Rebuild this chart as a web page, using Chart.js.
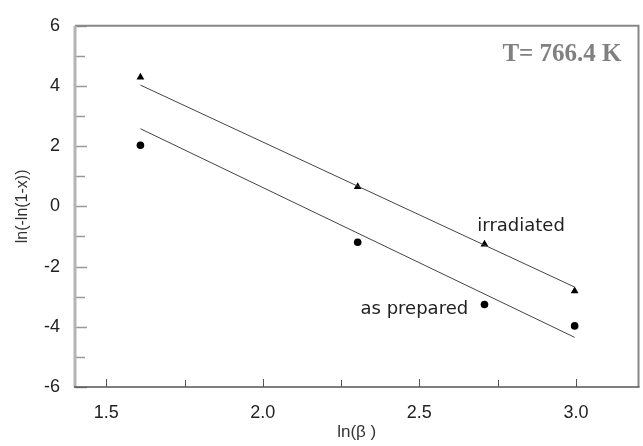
<!DOCTYPE html>
<html>
<head>
<meta charset="utf-8">
<script src="https://cdn.jsdelivr.net/npm/chart.js@4/dist/chart.umd.min.js"></script>
<style>
  html, body { margin: 0; padding: 0; background: #fff; }
</style>
</head>
<body>
<canvas id="chart" width="643" height="446"></canvas>
<script>
// ln(beta) values for the heating rates
const lnBeta = [1.609, 2.303, 2.708, 2.996];
const irradiated = [4.29, 0.65, -1.26, -2.81];
const asPrepared = [2.03, -1.19, -3.26, -3.97];

// fitted lines (end points)
const fitX = [1.609, 2.996];
const irradiatedFit = [4.03, -2.68];
const asPreparedFit = [2.58, -4.35];

const xMajor = [1.5, 2.0, 2.5, 3.0];
const xMinor = [1.75, 2.25, 2.75];
const yMajor = [-6, -4, -2, 0, 2, 4, 6];
const yMinor = [-5, -3, -1, 1, 3, 5];

const toPoints = (xs, ys) => xs.map((x, i) => ({ x: x, y: ys[i] }));

// box and inward tick marks
const framePlugin = {
  id: 'frame',
  afterDraw(chart) {
    const { ctx, chartArea: a, scales: { x, y } } = chart;
    ctx.save();
    ctx.lineWidth = 1;
    ctx.strokeStyle = '#555';
    xMajor.forEach(v => {
      const px = Math.round(x.getPixelForValue(v)) + 0.5;
      ctx.beginPath(); ctx.moveTo(px, a.bottom); ctx.lineTo(px, a.bottom - 8); ctx.stroke();
    });
    xMinor.forEach(v => {
      const px = Math.round(x.getPixelForValue(v)) + 0.5;
      ctx.beginPath(); ctx.moveTo(px, a.bottom); ctx.lineTo(px, a.bottom - 7); ctx.stroke();
    });
    ctx.strokeStyle = '#999';
    ctx.lineWidth = 1.5;
    yMajor.forEach(v => {
      const py = Math.round(y.getPixelForValue(v)) + 0.5;
      ctx.beginPath(); ctx.moveTo(a.left, py); ctx.lineTo(a.left + 12, py); ctx.stroke();
    });
    yMinor.forEach(v => {
      const py = Math.round(y.getPixelForValue(v)) + 0.5;
      ctx.beginPath(); ctx.moveTo(a.left, py); ctx.lineTo(a.left + 10, py); ctx.stroke();
    });
    // top + right
    ctx.strokeStyle = '#888';
    ctx.lineWidth = 2;
    ctx.beginPath();
    ctx.moveTo(a.left, a.top); ctx.lineTo(a.right, a.top); ctx.lineTo(a.right, a.bottom);
    ctx.stroke();
    // left
    ctx.strokeStyle = '#b4b4b4';
    ctx.lineWidth = 3;
    ctx.beginPath(); ctx.moveTo(a.left, a.top); ctx.lineTo(a.left, a.bottom); ctx.stroke();
    // bottom
    ctx.strokeStyle = '#555';
    ctx.lineWidth = 1.5;
    ctx.beginPath(); ctx.moveTo(a.left - 1, a.bottom); ctx.lineTo(a.right + 1, a.bottom); ctx.stroke();

    // text labels
    ctx.fillStyle = '#222';
    ctx.font = '18px "DejaVu Sans", Verdana, sans-serif';
    ctx.textAlign = 'center';
    ctx.textBaseline = 'middle';
    ctx.fillText('irradiated', x.getPixelForValue(2.825), y.getPixelForValue(-0.65));
    ctx.fillText('as prepared', x.getPixelForValue(2.484), y.getPixelForValue(-3.42));

    ctx.fillStyle = '#808080';
    ctx.font = 'bold 25px "Liberation Serif", "Times New Roman", serif';
    ctx.textAlign = 'right';
    ctx.fillText('T= 766.4 K', a.right - 17, a.top + 29);
    ctx.restore();
  }
};

new Chart(document.getElementById('chart'), {
  type: 'scatter',
  data: {
    datasets: [
      {
        label: 'irradiated fit',
        data: toPoints(fitX, irradiatedFit),
        showLine: true,
        borderColor: '#444',
        borderWidth: 1,
        pointRadius: 0
      },
      {
        label: 'as prepared fit',
        data: toPoints(fitX, asPreparedFit),
        showLine: true,
        borderColor: '#444',
        borderWidth: 1,
        pointRadius: 0
      },
      {
        label: 'irradiated',
        data: toPoints(lnBeta, irradiated),
        pointStyle: 'triangle',
        pointRadius: 4.5,
        backgroundColor: '#000',
        borderColor: '#000',
        borderWidth: 0
      },
      {
        label: 'as prepared',
        data: toPoints(lnBeta, asPrepared),
        pointStyle: 'circle',
        pointRadius: 3.8,
        backgroundColor: '#000',
        borderColor: '#000',
        borderWidth: 0
      }
    ]
  },
  options: {
    responsive: false,
    animation: false,
    layout: { padding: { top: 15, right: 4, left: 0, bottom: 0 } },
    plugins: {
      legend: { display: false },
      tooltip: { enabled: false }
    },
    scales: {
      x: {
        type: 'linear',
        min: 1.4,
        max: 3.2,
        afterBuildTicks: s => { s.ticks = xMajor.map(v => ({ value: v })); },
        afterFit: s => { s.height = 59; },
        grid: { display: false, drawTicks: false },
        border: { display: false },
        ticks: {
          padding: 15,
          color: '#222',
          font: { family: '"Liberation Sans", Arial, sans-serif', size: 18 },
          callback: v => Number(v).toFixed(1)
        },
        title: {
          display: true,
          text: 'ln(β )',
          color: '#333',
          padding: { top: 0, bottom: 3 },
          font: { family: '"Liberation Sans", Arial, sans-serif', size: 17 }
        }
      },
      y: {
        min: -6,
        max: 6,
        afterBuildTicks: s => { s.ticks = yMajor.map(v => ({ value: v })); },
        afterFit: s => { s.width = 75; },
        grid: { display: false, drawTicks: false },
        border: { display: false },
        ticks: {
          padding: 15,
          color: '#222',
          font: { family: '"Liberation Sans", Arial, sans-serif', size: 18 }
        },
        title: {
          display: true,
          text: 'ln(-ln(1-x))',
          color: '#333',
          padding: { top: 13, bottom: 0 },
          font: { family: '"Liberation Sans", Arial, sans-serif', size: 16 }
        }
      }
    }
  },
  plugins: [framePlugin]
});
</script>
</body>
</html>
